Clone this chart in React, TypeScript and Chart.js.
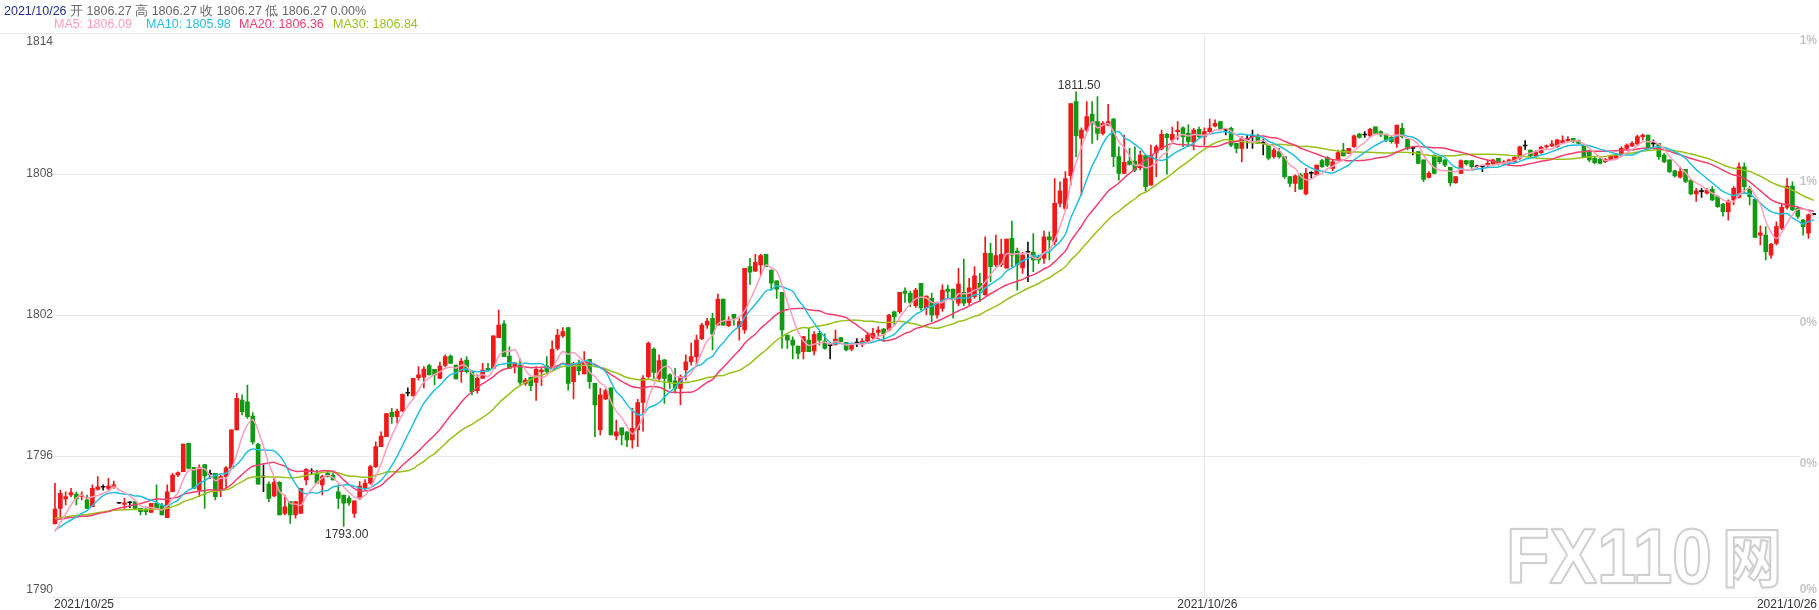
import React, { useEffect, useRef } from "react";
import { Chart, registerables } from "chart.js";
Chart.register(...registerables);

// ---------- data ----------
const DAY1 = "2021/10/25";
const DAY2 = "2021/10/26";
const Y_TICKS = [1814, 1808, 1802, 1796, 1790];
const RIGHT_TICKS = ["1%", "1%", "0%", "0%", "0%"];
const MA_PERIODS = [5, 10, 20, 30];
const MA_COLORS = ["#ff9dba", "#22bfe0", "#f0406e", "#98c21a"];
const MA_LEGEND = ["MA5: 1806.09", "MA10: 1805.98", "MA20: 1806.36", "MA30: 1806.84"];
const HEADER_DATE = "2021/10/26";
const HEADER_REST = "开 1806.27 高 1806.27 收 1806.27 低 1806.27 0.00%";

// closes before the first visible bar (estimated from the MA levels at the left edge)
const PRIOR_CLOSES = [
  1793.4, 1793.6, 1793.5, 1793.3, 1793.5, 1793.6, 1793.4, 1793.5, 1793.6, 1793.5,
  1793.8, 1793.6, 1793.9, 1793.7, 1793.6, 1793.8, 1793.7, 1793.5, 1793.7, 1793.9,
  1793.0, 1792.8, 1793.1, 1792.9, 1792.8,
  1792.6, 1792.4, 1792.5, 1792.7,
];

// [open, high, low, close] - 2021/10/25
const OHLC_DAY1: number[][] = [
  [1793.12, 1794.84, 1793.1, 1793.74], [1793.77, 1794.55, 1793.35, 1794.41], [1794.17, 1794.48, 1793.92, 1794.27],
  [1794.34, 1794.62, 1794.27, 1794.44], [1794.38, 1794.48, 1793.92, 1794.17], [1794.27, 1794.48, 1794.13, 1794.34],
  [1794.13, 1794.34, 1793.77, 1793.77], [1793.84, 1794.77, 1793.84, 1794.62], [1794.58, 1795.12, 1794.55, 1794.69],
  [1794.67, 1794.77, 1794.55, 1794.67], [1794.62, 1795.05, 1794.55, 1794.72], [1794.67, 1794.93, 1794.62, 1794.77],
  [1793.99, 1794.0, 1793.98, 1793.99], [1793.94, 1794.2, 1793.77, 1794.01], [1794.01, 1794.06, 1793.8, 1794.01],
  [1794.06, 1794.06, 1793.77, 1793.77], [1793.77, 1793.77, 1793.49, 1793.63], [1793.74, 1793.84, 1793.49, 1793.63],
  [1793.6, 1793.99, 1793.6, 1793.99], [1793.99, 1794.77, 1793.77, 1793.77], [1793.91, 1793.99, 1793.49, 1793.49],
  [1793.38, 1794.77, 1793.38, 1794.48], [1794.48, 1795.26, 1794.48, 1795.19], [1795.19, 1795.33, 1795.12, 1795.29],
  [1795.33, 1796.51, 1795.33, 1796.51], [1796.54, 1796.54, 1795.47, 1795.47], [1795.52, 1795.52, 1794.62, 1794.62],
  [1794.55, 1795.62, 1794.27, 1795.5], [1795.64, 1795.64, 1793.77, 1795.15], [1795.22, 1795.4, 1795.05, 1795.22],
  [1795.26, 1795.26, 1794.13, 1794.27], [1794.55, 1795.19, 1794.27, 1795.12], [1795.12, 1795.55, 1794.62, 1795.5],
  [1795.47, 1797.11, 1795.47, 1797.11], [1797.11, 1798.67, 1797.11, 1798.45], [1798.38, 1798.6, 1797.75, 1797.89],
  [1798.31, 1799.02, 1797.6, 1797.67], [1797.7, 1797.85, 1796.5, 1796.6], [1796.5, 1796.55, 1794.8, 1794.8],
  [1795.1, 1795.62, 1794.48, 1795.1], [1794.8, 1794.9, 1794.06, 1794.2], [1794.3, 1795.05, 1794.27, 1794.88],
  [1794.88, 1794.91, 1793.49, 1793.49], [1793.56, 1794.34, 1793.49, 1793.84], [1794.06, 1794.06, 1793.13, 1793.49],
  [1793.49, 1794.06, 1793.35, 1794.06], [1793.56, 1794.62, 1793.56, 1794.62], [1794.98, 1795.47, 1794.77, 1795.43],
  [1795.33, 1795.47, 1795.19, 1795.33], [1795.26, 1795.4, 1794.84, 1794.84], [1794.77, 1795.19, 1794.34, 1795.12],
  [1795.26, 1795.3, 1795.1, 1795.12], [1795.19, 1795.26, 1794.98, 1794.98], [1794.48, 1794.77, 1793.77, 1794.2],
  [1794.34, 1794.34, 1793.0, 1793.99], [1794.2, 1794.3, 1793.9, 1794.0], [1793.56, 1794.09, 1793.39, 1794.09],
  [1794.2, 1794.91, 1794.15, 1794.72], [1794.65, 1795.0, 1794.55, 1794.85], [1794.84, 1795.6, 1794.8, 1795.55],
  [1795.55, 1796.6, 1795.5, 1796.4], [1796.4, 1797.03, 1796.4, 1796.85], [1796.82, 1797.81, 1796.82, 1797.81],
  [1797.86, 1798.03, 1797.39, 1797.67], [1797.67, 1798.0, 1797.4, 1797.91], [1797.91, 1798.65, 1797.91, 1798.62],
  [1798.67, 1798.9, 1798.56, 1798.67], [1798.56, 1799.3, 1798.56, 1799.3], [1799.33, 1799.8, 1799.23, 1799.45],
  [1799.35, 1799.8, 1798.9, 1799.7], [1799.85, 1799.9, 1799.45, 1799.45], [1799.69, 1799.69, 1799.02, 1799.45],
  [1799.3, 1800.0, 1799.3, 1799.83], [1799.85, 1800.3, 1799.8, 1800.23], [1800.25, 1800.3, 1799.94, 1799.94],
  [1799.87, 1799.87, 1799.28, 1799.28], [1799.59, 1800.16, 1799.13, 1800.04], [1800.08, 1800.23, 1799.52, 1799.59],
  [1799.59, 1799.59, 1798.6, 1798.74], [1798.78, 1799.45, 1798.67, 1799.3], [1799.3, 1799.94, 1799.3, 1799.66],
  [1799.73, 1799.94, 1799.6, 1799.63], [1799.73, 1801.11, 1799.73, 1801.11], [1801.04, 1802.21, 1801.04, 1801.57],
  [1801.62, 1801.76, 1800.23, 1800.23], [1800.25, 1800.65, 1799.73, 1799.73], [1799.83, 1799.99, 1799.52, 1799.97],
  [1799.87, 1800.16, 1799.05, 1799.13], [1799.09, 1799.3, 1799.0, 1799.23], [1799.35, 1799.35, 1798.78, 1798.99],
  [1799.13, 1799.8, 1798.36, 1799.69], [1799.59, 1799.73, 1798.99, 1799.66], [1799.83, 1800.23, 1799.52, 1799.59],
  [1799.73, 1800.9, 1799.73, 1800.54], [1800.58, 1801.39, 1800.5, 1801.15], [1801.11, 1801.47, 1801.05, 1801.29],
  [1801.46, 1801.46, 1798.8, 1799.09], [1799.16, 1800.0, 1798.43, 1799.94], [1799.94, 1800.08, 1799.45, 1799.63],
  [1799.49, 1800.44, 1799.49, 1800.02], [1800.11, 1800.11, 1798.88, 1799.16], [1799.09, 1799.09, 1796.82, 1798.17],
  [1797.11, 1798.88, 1796.9, 1798.6], [1798.43, 1798.85, 1798.4, 1798.78], [1798.9, 1798.9, 1796.9, 1796.9],
  [1796.85, 1797.53, 1796.68, 1797.03], [1797.2, 1797.2, 1796.47, 1796.9], [1797.03, 1797.03, 1796.4, 1796.68],
  [1796.68, 1798.03, 1796.33, 1797.18], [1797.11, 1798.41, 1796.4, 1798.27], [1798.28, 1799.42, 1797.06, 1799.3],
  [1799.38, 1800.86, 1799.3, 1800.79], [1800.55, 1800.6, 1799.3, 1799.56], [1799.3, 1800.3, 1799.23, 1800.06],
  [1800.09, 1800.1, 1798.24, 1799.3], [1799.45, 1799.5, 1798.88, 1799.16], [1799.2, 1799.73, 1798.67, 1798.88],
  [1798.88, 1799.45, 1798.17, 1799.38], [1799.66, 1800.3, 1799.23, 1800.01], [1800.01, 1800.8, 1799.87, 1800.23],
  [1800.23, 1801.15, 1799.87, 1800.93], [1800.99, 1801.65, 1800.95, 1801.57], [1801.57, 1801.86, 1801.43, 1801.74],
  [1801.86, 1802.07, 1800.51, 1801.18], [1801.57, 1802.89, 1801.57, 1802.68], [1802.68, 1802.68, 1801.57, 1801.57],
  [1801.55, 1801.93, 1801.5, 1801.74], [1802.03, 1802.03, 1801.57, 1801.86], [1801.5, 1801.85, 1800.93, 1801.72],
  [1801.36, 1803.99, 1801.22, 1803.99], [1804.06, 1804.41, 1803.3, 1803.82], [1803.87, 1804.58, 1803.85, 1804.24],
  [1804.13, 1804.58, 1803.7, 1804.53], [1804.58, 1804.58, 1804.06, 1804.06], [1803.91, 1803.91, 1803.06, 1803.35],
  [1803.45, 1803.45, 1802.71, 1803.1], [1802.96, 1802.96, 1800.58, 1801.36], [1801.15, 1801.15, 1800.58, 1800.93],
  [1800.93, 1801.07, 1800.13, 1800.72], [1800.68, 1800.68, 1800.13, 1800.37], [1800.44, 1801.08, 1800.13, 1801.08],
  [1800.93, 1801.43, 1800.44, 1800.44], [1800.47, 1801.29, 1800.3, 1801.18], [1801.22, 1801.3, 1800.72, 1800.93],
  [1800.89, 1801.2, 1800.55, 1800.58], [1800.7, 1800.7, 1800.13, 1800.7], [1800.75, 1801.36, 1800.72, 1800.98],
  [1801.04, 1801.04, 1800.86, 1800.86], [1800.84, 1800.84, 1800.47, 1800.51], [1800.55, 1800.72, 1800.47, 1800.72],
  [1800.8, 1801.0, 1800.65, 1800.8], [1800.75, 1801.0, 1800.65, 1800.89], [1800.89, 1801.22, 1800.82, 1801.15],
  [1801.04, 1801.43, 1800.94, 1801.22], [1801.26, 1801.5, 1801.08, 1801.36], [1801.4, 1801.43, 1800.89, 1801.18],
  [1801.36, 1802.03, 1801.32, 1802.0], [1802.14, 1802.17, 1801.57, 1801.93], [1802.14, 1802.96, 1802.07, 1802.96],
  [1803.02, 1803.16, 1802.54, 1802.92], [1802.92, 1803.02, 1802.35, 1802.54], [1802.4, 1803.13, 1802.31, 1803.06],
  [1803.35, 1803.35, 1802.21, 1802.3], [1802.3, 1802.82, 1802.0, 1802.8], [1802.71, 1802.92, 1801.72, 1802.0],
  [1802.0, 1802.55, 1801.86, 1802.5], [1802.28, 1803.28, 1802.15, 1803.06], [1803.1, 1803.27, 1802.71, 1803.0],
  [1803.1, 1803.1, 1801.86, 1802.64], [1802.5, 1803.99, 1802.4, 1803.32], [1802.96, 1804.38, 1802.4, 1802.5],
  [1802.54, 1803.56, 1802.43, 1803.16], [1802.78, 1804.06, 1802.71, 1803.67], [1803.35, 1803.77, 1802.57, 1803.06],
  [1802.85, 1805.33, 1802.85, 1804.62], [1804.62, 1805.05, 1803.42, 1804.06], [1804.13, 1805.4, 1804.06, 1804.53],
  [1804.13, 1805.23, 1804.06, 1804.58], [1803.99, 1805.23, 1803.99, 1805.23], [1805.26, 1806.0, 1804.06, 1804.55],
  [1804.72, 1804.85, 1803.06, 1804.13], [1804.0, 1804.67, 1803.77, 1804.55], [1804.67, 1805.1, 1803.42, 1804.67],
  [1804.67, 1805.47, 1803.84, 1804.34], [1804.48, 1804.55, 1804.2, 1804.34], [1804.41, 1805.57, 1804.2, 1805.33],
  [1805.33, 1805.54, 1804.34, 1805.19], [1805.12, 1807.8, 1804.98, 1806.75], [1806.75, 1807.67, 1806.6, 1807.28],
  [1806.54, 1808.1, 1806.47, 1807.8], [1807.93, 1811.0, 1807.53, 1811.0], [1811.08, 1811.5, 1808.74, 1809.63],
  [1809.52, 1809.97, 1807.1, 1809.87], [1809.87, 1811.08, 1809.8, 1810.44], [1810.54, 1811.08, 1809.3, 1810.16],
  [1810.23, 1811.29, 1809.45, 1809.73], [1809.73, 1810.23, 1809.66, 1810.16], [1810.08, 1810.96, 1810.05, 1810.23],
  [1810.34, 1810.37, 1808.31, 1808.74], [1808.74, 1809.16, 1807.74, 1808.03], [1808.03, 1809.66, 1808.03, 1808.5],
  [1808.55, 1809.09, 1808.38, 1808.41], [1808.55, 1809.16, 1808.1, 1808.17], [1808.27, 1808.98, 1808.17, 1808.81],
  [1808.78, 1808.78, 1807.28, 1807.46], [1807.53, 1809.23, 1807.53, 1808.78], [1808.92, 1809.23, 1807.88, 1809.16],
  [1809.07, 1809.87, 1809.02, 1809.69], [1809.69, 1809.73, 1807.99, 1809.55], [1809.45, 1810.0, 1809.38, 1809.69],
  [1809.8, 1810.23, 1809.45, 1809.87], [1809.97, 1810.01, 1809.16, 1809.59], [1809.73, 1810.1, 1809.16, 1809.38],
  [1809.35, 1809.94, 1809.02, 1809.87], [1809.9, 1810.0, 1809.52, 1809.59],
];

// [open, high, low, close] - 2021/10/26
const OHLC_DAY2: number[][] = [
  [1809.59, 1809.97, 1809.23, 1809.8], [1809.8, 1810.34, 1809.77, 1809.95], [1810.04, 1810.3, 1810.0, 1810.16],
  [1810.23, 1810.23, 1809.87, 1809.9], [1809.87, 1809.94, 1809.66, 1809.87], [1809.94, 1810.0, 1809.16, 1809.23],
  [1809.3, 1809.3, 1808.9, 1809.09], [1809.09, 1809.59, 1808.53, 1809.52], [1809.45, 1809.66, 1809.09, 1809.45],
  [1809.59, 1809.87, 1809.09, 1809.59], [1809.62, 1809.7, 1809.3, 1809.3], [1809.3, 1809.48, 1808.81, 1809.3],
  [1809.23, 1809.23, 1808.6, 1808.67], [1808.74, 1809.09, 1808.67, 1809.02], [1808.95, 1809.09, 1808.67, 1808.74],
  [1808.74, 1808.74, 1807.81, 1807.89], [1807.89, 1807.89, 1807.46, 1807.6], [1807.6, 1807.96, 1807.25, 1807.92],
  [1807.96, 1808.03, 1807.35, 1807.35], [1807.15, 1808.24, 1807.11, 1808.03], [1808.03, 1808.1, 1807.82, 1808.03],
  [1807.96, 1808.38, 1807.96, 1808.38], [1808.57, 1808.62, 1808.28, 1808.31], [1808.71, 1808.74, 1808.31, 1808.38],
  [1808.24, 1808.6, 1808.14, 1808.52], [1808.6, 1809.02, 1808.6, 1808.91], [1809.02, 1809.3, 1808.77, 1808.77],
  [1808.88, 1809.09, 1808.88, 1809.09], [1809.16, 1809.66, 1809.13, 1809.62], [1809.7, 1809.73, 1809.52, 1809.56],
  [1809.66, 1809.8, 1809.56, 1809.66], [1809.62, 1809.94, 1809.59, 1809.9], [1810.01, 1810.01, 1809.73, 1809.73],
  [1809.8, 1809.84, 1809.59, 1809.66], [1809.7, 1809.7, 1809.38, 1809.45], [1809.56, 1809.62, 1809.31, 1809.38],
  [1809.3, 1810.08, 1809.13, 1810.08], [1809.94, 1810.16, 1809.52, 1809.59], [1809.48, 1809.48, 1809.02, 1809.09],
  [1809.09, 1809.16, 1808.81, 1809.09], [1808.95, 1808.95, 1808.45, 1808.45], [1808.6, 1808.6, 1807.67, 1807.77],
  [1807.85, 1808.1, 1807.82, 1808.03], [1808.81, 1808.81, 1808.0, 1808.03], [1808.74, 1808.77, 1808.45, 1808.52],
  [1808.6, 1808.6, 1808.31, 1808.38], [1808.28, 1808.28, 1807.49, 1807.63], [1807.63, 1807.89, 1807.6, 1807.89],
  [1808.03, 1808.6, 1808.03, 1808.57], [1808.57, 1808.57, 1808.38, 1808.43], [1808.57, 1808.57, 1808.24, 1808.31],
  [1808.31, 1808.38, 1808.28, 1808.31], [1808.31, 1808.31, 1808.1, 1808.31], [1808.34, 1808.6, 1808.31, 1808.45],
  [1808.43, 1808.62, 1808.38, 1808.6], [1808.67, 1808.67, 1808.38, 1808.45], [1808.45, 1808.57, 1808.38, 1808.52],
  [1808.5, 1808.62, 1808.4, 1808.6], [1808.52, 1808.74, 1808.48, 1808.71], [1808.67, 1809.19, 1808.62, 1809.16],
  [1809.19, 1809.42, 1809.05, 1809.19], [1809.02, 1809.02, 1808.71, 1808.77], [1808.77, 1809.0, 1808.71, 1808.95],
  [1808.91, 1809.19, 1808.88, 1809.13], [1809.16, 1809.24, 1809.09, 1809.2], [1809.2, 1809.42, 1809.16, 1809.28],
  [1809.16, 1809.48, 1809.13, 1809.45], [1809.33, 1809.62, 1809.3, 1809.42], [1809.42, 1809.59, 1809.38, 1809.48],
  [1809.52, 1809.52, 1809.33, 1809.38], [1809.42, 1809.45, 1809.28, 1809.3], [1809.23, 1809.28, 1808.71, 1808.74],
  [1808.99, 1809.02, 1808.52, 1808.6], [1808.67, 1808.71, 1808.43, 1808.48], [1808.62, 1808.67, 1808.43, 1808.45],
  [1808.52, 1808.67, 1808.48, 1808.62], [1808.62, 1808.81, 1808.6, 1808.77], [1808.67, 1808.88, 1808.62, 1808.81],
  [1808.81, 1809.16, 1808.77, 1809.09], [1809.09, 1809.28, 1809.05, 1809.23], [1809.19, 1809.38, 1809.16, 1809.3],
  [1809.28, 1809.66, 1809.24, 1809.59], [1809.59, 1809.7, 1809.45, 1809.66], [1809.66, 1809.66, 1809.05, 1809.09],
  [1809.28, 1809.45, 1809.14, 1809.28], [1809.3, 1809.3, 1808.62, 1808.74], [1808.81, 1808.88, 1808.48, 1808.52],
  [1808.6, 1808.6, 1808.06, 1808.1], [1808.14, 1808.17, 1807.86, 1807.92], [1807.86, 1808.31, 1807.82, 1808.1],
  [1808.2, 1808.2, 1807.63, 1807.68], [1807.74, 1807.74, 1807.11, 1807.15], [1807.15, 1807.39, 1806.83, 1807.28],
  [1807.25, 1807.39, 1807.0, 1807.25], [1807.18, 1807.39, 1807.15, 1807.32], [1807.35, 1807.46, 1806.87, 1806.9],
  [1807.04, 1807.07, 1806.58, 1806.61], [1806.72, 1806.75, 1806.21, 1806.4], [1806.4, 1806.9, 1806.04, 1806.85],
  [1806.9, 1807.46, 1806.68, 1807.39], [1807.0, 1808.48, 1806.97, 1808.31], [1808.31, 1808.48, 1807.18, 1807.46],
  [1807.39, 1807.46, 1806.68, 1807.04], [1806.92, 1806.92, 1805.3, 1805.3], [1805.4, 1805.79, 1804.98, 1805.5],
  [1805.4, 1805.76, 1804.34, 1804.7], [1804.55, 1805.05, 1804.41, 1805.02], [1805.05, 1805.97, 1804.98, 1805.76],
  [1805.69, 1806.75, 1805.62, 1806.58], [1806.58, 1807.82, 1806.5, 1807.49], [1807.49, 1807.67, 1806.44, 1806.47],
  [1806.54, 1806.61, 1806.11, 1806.19], [1806.04, 1806.07, 1805.4, 1805.76], [1805.48, 1806.3, 1805.26, 1806.26],
  [1806.27, 1806.27, 1806.27, 1806.27],
];

// ---------- layout / style ----------
const W = 1819;
const H = 610;
const GRID_RIGHT = 1800;
const UP = "#ee1a1a";
const DOWN = "#0f9a12";
const DOJI = "#111111";
const FONT = "Arial, 'Liberation Sans', sans-serif";

const OHLC = [...OHLC_DAY1, ...OHLC_DAY2];
const SPLIT = OHLC_DAY1.length;
const LABELS = OHLC.map((_, i) => (i < SPLIT ? DAY1 : DAY2));

function movingAverage(period: number): number[] {
  const closes = [...PRIOR_CLOSES, ...OHLC.map((c) => c[3])];
  const off = PRIOR_CLOSES.length;
  return OHLC.map((_, i) => {
    const end = off + i;
    const start = Math.max(0, end - period + 1);
    let s = 0;
    for (let k = start; k <= end; k++) s += closes[k];
    return s / (end - start + 1);
  });
}

function candleColor(c: number[]) {
  if (c[3] > c[0]) return UP;
  if (c[3] < c[0]) return DOWN;
  return DOJI;
}

const overlayPlugin = {
  id: "overlay",
  beforeDatasetsDraw(chart: any) {
    const { ctx } = chart;
    const x = chart.scales.x;
    const y = chart.scales.y;
    ctx.save();
    // watermark
    ctx.lineJoin = "round";
    ctx.font = `bold 78px ${FONT}`;
    const txt = "FX110";
    const tw = ctx.measureText(txt).width;
    ctx.save();
    ctx.translate(1506, 583);
    ctx.scale(206 / tw, 1);
    ctx.shadowColor = "rgba(0,0,0,0.18)";
    ctx.shadowBlur = 3;
    ctx.fillStyle = "#ffffff";
    ctx.fillText(txt, 0, 0);
    ctx.shadowBlur = 0;
    ctx.strokeStyle = "#cfcfcf";
    ctx.lineWidth = 2;
    ctx.strokeText(txt, 0, 0);
    ctx.restore();
    ctx.save();
    ctx.font = `bold 64px 'Noto Sans CJK SC', sans-serif`;
    const cw = ctx.measureText("网").width;
    ctx.translate(1722, 583);
    ctx.scale(60 / cw, 1);
    ctx.shadowColor = "rgba(0,0,0,0.18)";
    ctx.shadowBlur = 3;
    ctx.fillStyle = "#ffffff";
    ctx.fillText("网", 0, -2);
    ctx.shadowBlur = 0;
    ctx.strokeStyle = "#cfcfcf";
    ctx.lineWidth = 2;
    ctx.strokeText("网", 0, -2);
    ctx.restore();

    // horizontal grid
    ctx.strokeStyle = "#e8e8e8";
    ctx.lineWidth = 1;
    Y_TICKS.forEach((v, k) => {
      const py = Math.round(y.getPixelForValue(v)) + 0.5;
      ctx.beginPath();
      ctx.moveTo(k === 0 ? 0 : x.left, py);
      ctx.lineTo(GRID_RIGHT, py);
      ctx.stroke();
    });
    // day separator
    const vx = Math.round(x.getPixelForValue(SPLIT)) + 0.5;
    ctx.beginPath();
    ctx.moveTo(vx, y.top);
    ctx.lineTo(vx, y.bottom);
    ctx.stroke();
    ctx.restore();
  },
  afterDatasetsDraw(chart: any) {
    const { ctx } = chart;
    const x = chart.scales.x;
    const y = chart.scales.y;
    ctx.save();
    ctx.font = `12px ${FONT}`;
    // left axis labels
    ctx.fillStyle = "#555555";
    ctx.textAlign = "right";
    Y_TICKS.forEach((v, k) => {
      const py = y.getPixelForValue(v);
      if (k === 0) {
        ctx.textBaseline = "top";
        ctx.fillText(String(v), 53, py + 3);
      } else if (k === Y_TICKS.length - 1) {
        ctx.textBaseline = "bottom";
        ctx.fillText(String(v), 53, py - 1);
      } else {
        ctx.textBaseline = "middle";
        ctx.fillText(String(v), 53, py);
      }
    });
    // right axis labels
    ctx.fillStyle = "#c6c6c6";
    ctx.font = `bold 12px ${FONT}`;
    Y_TICKS.forEach((v, k) => {
      const py = y.getPixelForValue(v);
      if (k === Y_TICKS.length - 1) {
        ctx.textBaseline = "bottom";
        ctx.fillText(RIGHT_TICKS[k], W - 2, py - 1);
      } else {
        ctx.textBaseline = "top";
        ctx.fillText(RIGHT_TICKS[k], W - 2, py + 2);
      }
    });
    // bottom date labels
    ctx.font = `12px ${FONT}`;
    ctx.fillStyle = "#333333";
    ctx.textBaseline = "alphabetic";
    ctx.textAlign = "left";
    ctx.fillText(DAY1, x.getPixelForValue(0) - 1, 608);
    ctx.textAlign = "center";
    ctx.fillText(DAY2, x.getPixelForValue(SPLIT) + 3, 608);
    ctx.textAlign = "right";
    ctx.fillText(DAY2, W - 2, 608);

    // extreme labels
    let hi = 0;
    let lo = 0;
    OHLC.forEach((c, i) => {
      if (c[1] > OHLC[hi][1]) hi = i;
      if (c[2] < OHLC[lo][2]) lo = i;
    });
    ctx.fillStyle = "#333333";
    ctx.textAlign = "center";
    ctx.textBaseline = "alphabetic";
    ctx.fillText(OHLC[hi][1].toFixed(2), x.getPixelForValue(hi) + 3, y.getPixelForValue(OHLC[hi][1]) - 3);
    ctx.textBaseline = "top";
    ctx.fillText(OHLC[lo][2].toFixed(2), x.getPixelForValue(lo) + 3, y.getPixelForValue(OHLC[lo][2]) + 2);
    ctx.restore();
  },
};

export default function App() {
  const canvasRef = useRef<HTMLCanvasElement | null>(null);

  useEffect(() => {
    document.body.style.margin = "0";
    const canvas = canvasRef.current;
    if (!canvas) return;
    const colors = OHLC.map(candleColor);
    const datasets: any[] = MA_PERIODS.map((p, k) => ({
      type: "line",
      label: `MA${p}`,
      data: movingAverage(p),
      borderColor: MA_COLORS[k],
      borderWidth: 1.5,
      pointRadius: 0,
      tension: 0.35,
      order: 0,
    }));
    datasets.push({
      type: "bar",
      label: "body",
      data: OHLC.map((c) => [Math.min(c[0], c[3]), Math.max(c[0], c[3])]),
      backgroundColor: colors,
      barThickness: 4,
      minBarLength: 1,
      grouped: false,
      order: 1,
    });
    datasets.push({
      type: "bar",
      label: "wick",
      data: OHLC.map((c) => [c[2], c[1]]),
      backgroundColor: colors,
      barThickness: 1,
      minBarLength: 1,
      grouped: false,
      order: 2,
    });

    const chart = new Chart(canvas, {
      type: "bar",
      data: { labels: LABELS, datasets },
      options: {
        animation: false,
        responsive: false,
        devicePixelRatio: 1,
        layout: { padding: { left: 52.3, right: 2.5, top: 33, bottom: 13 } },
        plugins: { legend: { display: false }, tooltip: { enabled: false } },
        scales: {
          x: { type: "category", offset: true, display: false },
          y: { min: 1790, max: 1814, display: false },
        },
      },
      plugins: [overlayPlugin],
    });
    return () => chart.destroy();
  }, []);

  return (
    <div style={{ position: "relative", width: W, height: H, fontFamily: FONT, background: "#fff" }}>
      <canvas ref={canvasRef} width={W} height={H} style={{ display: "block" }} />
      <div style={{ position: "absolute", left: 4, top: 4, fontSize: 12.5, lineHeight: "14px", color: "#666", whiteSpace: "nowrap" }}>
        <span style={{ color: "#1d2f8a" }}>{HEADER_DATE}</span> {HEADER_REST}
      </div>
      {MA_LEGEND.map((t, k) => (
        <div
          key={t}
          style={{
            position: "absolute",
            left: [54, 146, 239, 333][k],
            top: 17,
            fontSize: 12.5,
            lineHeight: "14px",
            color: MA_COLORS[k],
            whiteSpace: "nowrap",
          }}
        >
          {t}
        </div>
      ))}
    </div>
  );
}
